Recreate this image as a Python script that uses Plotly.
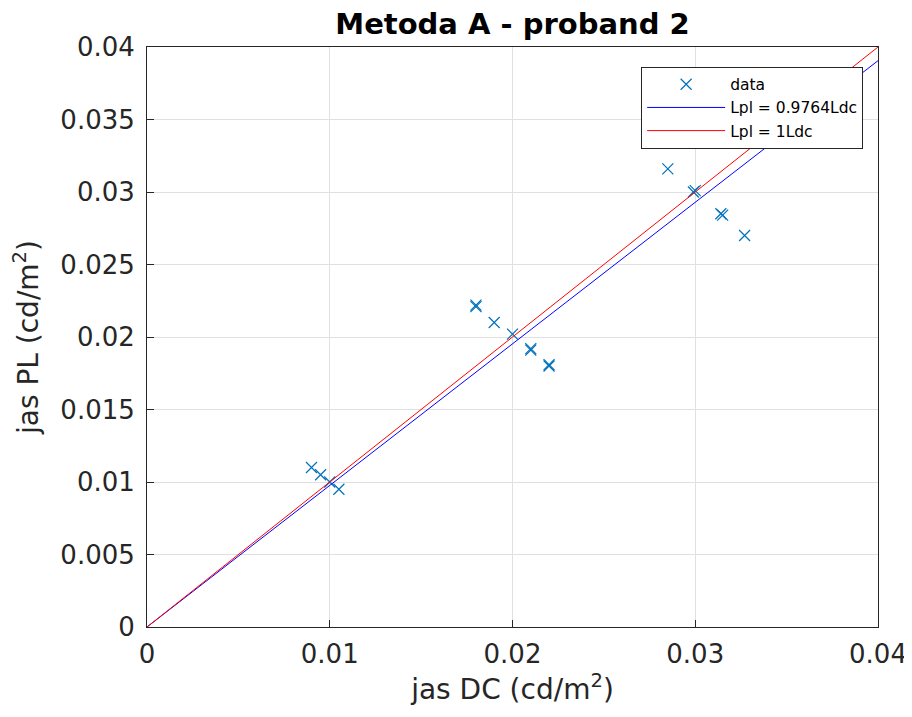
import plotly.graph_objects as go

x_dc = [0.009, 0.0095, 0.01, 0.0105, 0.018, 0.0180, 0.019, 0.020, 0.021, 0.0210, 0.022, 0.0220,
        0.0285, 0.0299, 0.0300, 0.0315, 0.0314, 0.0327]
y_pl = [0.0110, 0.0105, 0.0100, 0.0095, 0.0221, 0.0222, 0.0210, 0.0202, 0.0191, 0.0192, 0.0181, 0.0180,
        0.0316, 0.0300, 0.0301, 0.0284, 0.0285, 0.0270]
fit_slope = 0.9764
ref_slope = 1.0
line_x = [0.0, 0.041]
x_ticks = [0, 0.01, 0.02, 0.03, 0.04]
x_tick_text = ["0", "0.01", "0.02", "0.03", "0.04"]
y_ticks = [0, 0.005, 0.01, 0.015, 0.02, 0.025, 0.03, 0.035, 0.04]
y_tick_text = ["0", "0.005", "0.01", "0.015", "0.02", "0.025", "0.03", "0.035", "0.04"]

fig = go.Figure()
fig.add_trace(go.Scatter(x=x_dc, y=y_pl, mode="markers", name="data",
                         marker=dict(symbol="x-thin", size=11, line=dict(width=1.2, color="#0072BD"),
                                     color="#0072BD")))
fig.add_trace(go.Scatter(x=line_x, y=[fit_slope * v for v in line_x], mode="lines",
                         name="Lpl = 0.9764Ldc", line=dict(color="#0000FF", width=1)))
fig.add_trace(go.Scatter(x=line_x, y=[ref_slope * v for v in line_x], mode="lines",
                         name="Lpl = 1Ldc", line=dict(color="#FF0000", width=1)))

axis_common = dict(showgrid=True, gridcolor="#E0E0E0", gridwidth=1, zeroline=False,
                   showline=True, linecolor="#262626", linewidth=1, mirror=True,
                   ticks="inside", ticklen=7, tickcolor="#262626",
                   tickfont=dict(family="DejaVu Sans", size=26, color="#262626"))

fig.update_layout(
    width=912, height=717,
    margin=dict(l=139, r=42, t=39, b=98, autoexpand=False),
    paper_bgcolor="white", plot_bgcolor="white",
    title=dict(text="<b>Metoda A - proband 2</b>", x=0.5, xref="paper", xanchor="center",
               y=0.978, yanchor="middle",
               font=dict(family="DejaVu Sans", size=29, color="black")),
    xaxis=dict(range=[0, 0.04], tickvals=x_ticks, ticktext=x_tick_text, ticklabelstandoff=4,
               title=dict(text="jas DC (cd/m<sup>2</sup>)", font=dict(family="DejaVu Sans", size=28, color="#262626"), standoff=10),
               **axis_common),
    yaxis=dict(range=[0, 0.04], tickvals=y_ticks, ticktext=y_tick_text, ticklabelstandoff=6,
               title=dict(text="jas PL (cd/m<sup>2</sup>)", font=dict(family="DejaVu Sans", size=28, color="#262626"), standoff=14),
               **axis_common),
    legend=dict(x=0.676, y=0.966, xanchor="left", yanchor="top", bgcolor="white",
                bordercolor="#262626", borderwidth=1, tracegroupgap=0,
                font=dict(family="DejaVu Sans", size=15.5, color="black"), itemwidth=78),
    showlegend=True,
)

fig.write_html("out.html")
